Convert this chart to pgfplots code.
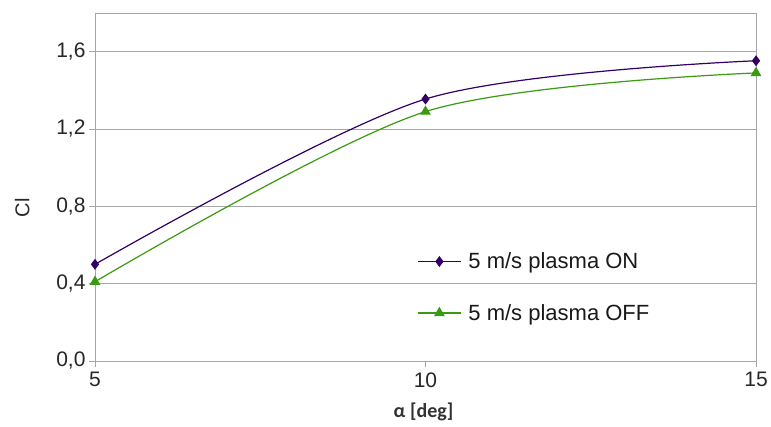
\documentclass[border=0pt]{standalone}
\usepackage{fontspec}
\setmainfont{Liberation Sans}
\newfontfamily\calibri{Carlito}
\usepackage{pgfplots}
\pgfplotsset{compat=1.18}

\definecolor{onpurple}{HTML}{330066}
\definecolor{offgreen}{HTML}{3A9A10}
\definecolor{gridgray}{HTML}{A6A6A6}

\begin{document}
\begin{tikzpicture}
\begin{axis}[
    scale only axis,
    width=661pt, height=348pt,
    xmin=5, xmax=15,
    ymin=0, ymax=1.8,
    xtick={5,10,15},
    ytick={0,0.4,0.8,1.2,1.6},
    ymajorgrids=true,
    grid style={gridgray, line width=0.9pt},
    axis line style={gridgray, line width=0.9pt},
    tick style={gridgray, line width=0.9pt},
    tick align=outside,
    major tick length=6pt,
    xtick pos=bottom, ytick pos=left,
    ticklabel style={font=\fontsize{21}{24}\selectfont, text=black!85},
    /pgf/number format/assume math mode=true,
    yticklabel style={/pgf/number format/.cd, fixed, fixed zerofill, precision=1, use comma},
    xticklabel style={yshift=-2pt},
    ylabel={Cl},
    ylabel style={font=\fontsize{20}{24}\selectfont, text=black!85, at={(axis description cs:-0.11,0.44)}, anchor=center},
    xlabel={α [deg]},
    xlabel style={font=\calibri\bfseries\fontsize{20}{24}\selectfont, text=black!80, at={(axis description cs:0.497,-0.147)}, anchor=center},
    legend style={draw=none, fill=none, at={(0.483,0.323)}, anchor=north west,
        font=\fontsize{22}{24}\selectfont, row sep=30pt,
        nodes={inner sep=2pt, text=black!90}},
    legend cell align=left,
    legend image code/.code={\draw[line width=1.2pt, mark repeat=2,mark phase=2] plot coordinates {(0cm,0cm) (0.75cm,0cm) (1.5cm,0cm)};
        \path (1.68cm,0cm);},
]
\addplot[onpurple, line width=1.2pt, smooth, mark=diamond*, mark size=4.5pt, mark options={solid}]
    coordinates {(5,0.50) (10,1.355) (15,1.553)};
\addlegendentry{5 m/s plasma ON}
\addplot[offgreen, line width=1.2pt, smooth, mark=triangle*, mark size=5pt, mark options={solid}]
    coordinates {(5,0.41) (10,1.29) (15,1.49)};
\addlegendentry{5 m/s plasma OFF}
\end{axis}
\pgfresetboundingbox
\path ([xshift=-95pt,yshift=-66pt]current axis.south west) rectangle ([xshift=15pt,yshift=13pt]current axis.north east);
\end{tikzpicture}
\end{document}
